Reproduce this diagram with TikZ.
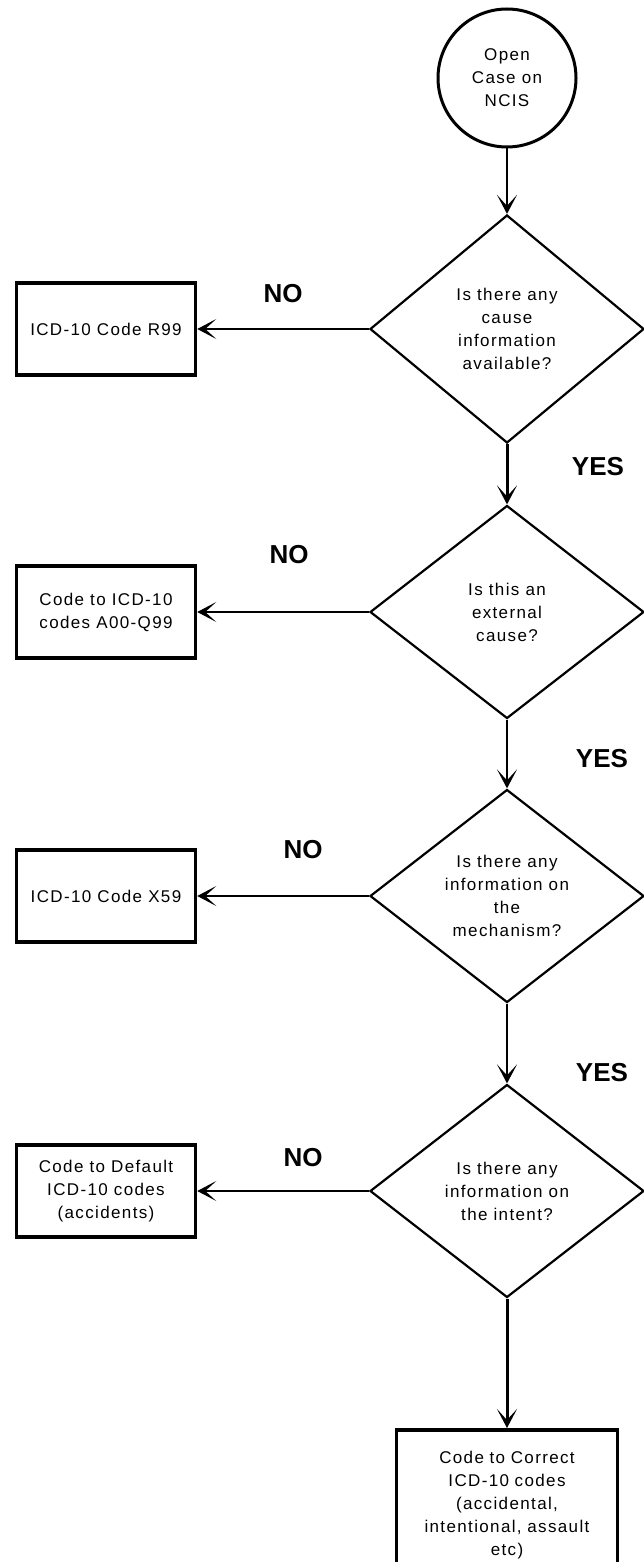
\documentclass[tikz,border=0pt]{standalone}
\usepackage{fontspec}
\setmainfont{Liberation Sans}
\newfontfamily\flowfont[LetterSpace=8]{Liberation Sans}
\usetikzlibrary{shapes.geometric, arrows.meta, positioning}

\tikzset{
  flowtext/.style={font=\flowfont\fontsize{17}{23}\selectfont, align=center},
  startnode/.style={circle, draw, line width=3pt, minimum size=138pt, inner sep=0pt, flowtext},
  question/.style={diamond, draw, line width=2.2pt, minimum width=274pt, minimum height=213pt, inner sep=0pt, flowtext},
  outcome/.style={rectangle, draw, line width=3.5pt, minimum width=179pt, minimum height=92pt, inner sep=2pt, flowtext},
  answer/.style={font=\bfseries\fontsize{26}{30}\selectfont},
  thinarrow/.style={-{Stealth[length=19pt, width=20pt, inset=11pt]}, line width=1.5pt},
  thickarrow/.style={-{Stealth[length=19pt, width=20pt, inset=11pt]}, line width=3pt},
}

\begin{document}
\begin{tikzpicture}[x=1pt, y=-1pt]
\useasboundingbox (0,0) rectangle (643,1562);

% Start of the case
\node[startnode] (open) at (507,78) {Open\\Case on\\NCIS};

% Questions down the right side
\node[question, minimum height=228pt] (q1) at (507,329) {Is there any\\cause\\information\\available?};
\node[question] (q2) at (507,612) {Is this an\\external\\cause?};
\node[question] (q3) at (507,896) {Is there any\\information on\\the\\mechanism?};
\node[question] (q4) at (507,1191) {Is there any\\information on\\the intent?};

% Codes on the left side
\node[outcome] (r99) at (106,329) {ICD-10 Code R99};
\node[outcome] (aq99) at (106,612) {Code to ICD-10\\codes A00-Q99};
\node[outcome] (x59) at (106,896) {ICD-10 Code X59};
\node[outcome] (default) at (106,1191) {Code to Default\\ICD-10 codes\\(accidents)};

% Final code
\node[outcome, anchor=north, minimum width=221pt, minimum height=150pt, text width=215pt] (correct) at (507,1428) {Code to Correct\\ICD-10 codes\\(accidental,\\intentional, assault\\etc)};

% YES path
\draw[thinarrow] (open) -- (q1);
\draw[thickarrow] (q1) -- (q2);
\draw[thinarrow] (q2) -- (q3);
\draw[thinarrow] (q3) -- (q4);
\draw[thickarrow] (q4) -- (correct);

% NO path
\draw[thinarrow] (q1.west) -- (r99.east);
\draw[thinarrow] (q2.west) -- (aq99.east);
\draw[thinarrow] (q3.west) -- (x59.east);
\draw[thinarrow] (q4.west) -- (default.east);

% Answer labels
\node[answer] (no1) at (283,294) {NO};
\node[answer] (no2) at (289,555) {NO};
\node[answer] (no3) at (303,850) {NO};
\node[answer] (no4) at (303,1158) {NO};
\node[answer] (yes1) at (598,467) {YES};
\node[answer] (yes2) at (602,759) {YES};
\node[answer] (yes3) at (602,1073) {YES};
\end{tikzpicture}
\end{document}
